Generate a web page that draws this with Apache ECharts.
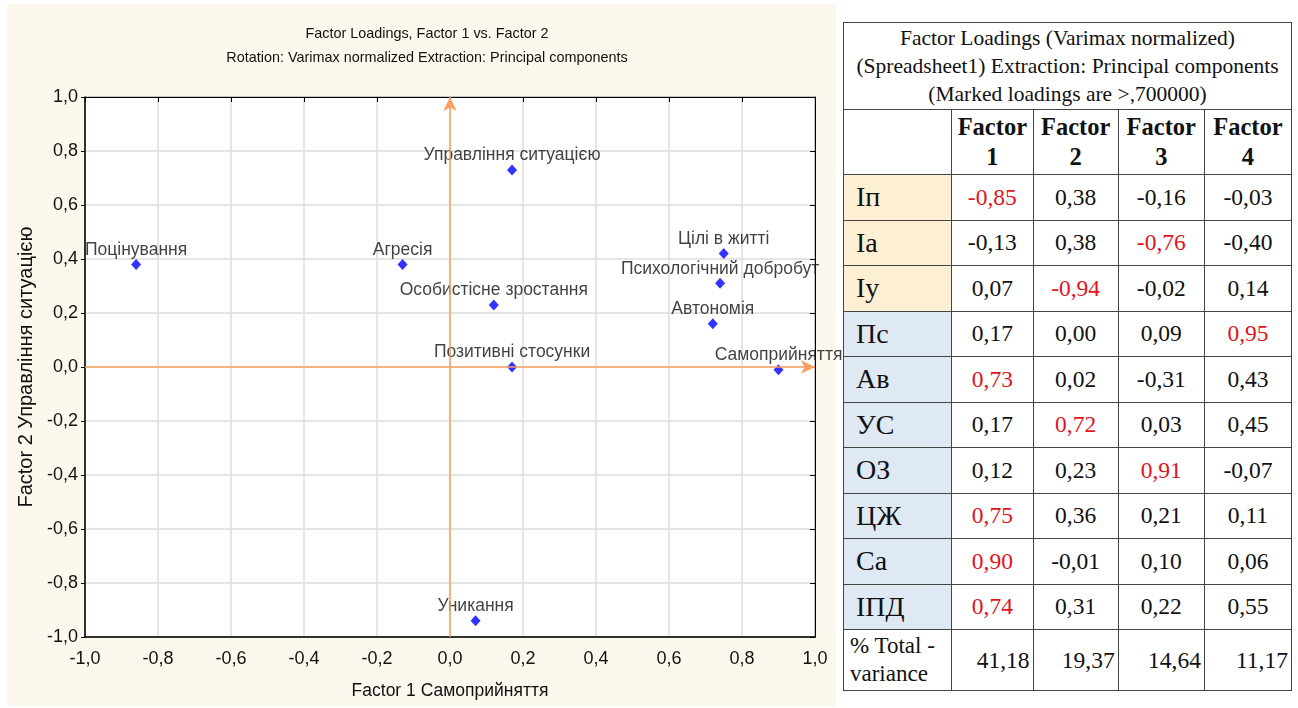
<!DOCTYPE html>
<html>
<head>
<meta charset="utf-8">
<script src="https://cdn.jsdelivr.net/npm/echarts@6/dist/echarts.min.js"></script>
<style>
  html, body { margin: 0; padding: 0; background: #fff; width: 1298px; height: 708px; overflow: hidden; }
  #panel { position: absolute; left: 7px; top: 4px; width: 829px; height: 702px; background: #fdf8ee; }
  #chart { position: absolute; left: 7px; top: 4px; width: 836px; height: 702px; }
  #tbl { position: absolute; left: 843px; top: 22px; width: 449px; border-collapse: collapse;
         font-family: "Liberation Serif", "Times New Roman", serif; color: #111; background: #fff; }
  #tbl td { border: 1px solid #444; padding: 0; }
  #tbl .ttl { text-align: center; font-size: 21.5px; line-height: 28px; height: 86px; white-space: nowrap; }
  #tbl .hd { text-align: center; font-weight: bold; font-size: 24.5px; line-height: 30px; height: 64px; }
  #tbl .lab { font-size: 28px; padding-left: 12px; height: 44.5px; }
  #tbl .val { text-align: center; font-size: 23.5px; }
  #tbl .red { color: #e0141e; }
  #tbl .var { font-size: 23px; line-height: 28px; padding-left: 6px; height: 60px; white-space: nowrap; }
  #tbl .vv { text-align: right; font-size: 23.5px; padding-right: 3px; }
</style>
</head>
<body>
<div id="panel"></div>
<div id="chart"></div>
<table id="tbl"></table>
<script>
// points on the plot (Factor 1, Factor 2)
const pointNames = ['Поцінування', 'Агресія', 'Уникання', 'Позитивні стосунки', 'Автономія',
  'Управління ситуацією', 'Особистісне зростання', 'Цілі в житті', 'Самоприйняття', 'Психологічний добробут'];
const factor1 = [-0.86, -0.13, 0.07, 0.17, 0.72, 0.17, 0.12, 0.75, 0.90, 0.74];
const factor2 = [0.38, 0.38, -0.94, 0.00, 0.16, 0.73, 0.23, 0.42, -0.01, 0.31];
const axisTicks = [-1, -0.8, -0.6, -0.4, -0.2, 0, 0.2, 0.4, 0.6, 0.8, 1];

// table
const rowLabels = ['Iп', 'Ia', 'Iу', 'Пс', 'Ав', 'УС', 'ОЗ', 'ЦЖ', 'Са', 'ІПД'];
const loadF1 = [-0.85, -0.13, 0.07, 0.17, 0.73, 0.17, 0.12, 0.75, 0.90, 0.74];
const loadF2 = [0.38, 0.38, -0.94, 0.00, 0.02, 0.72, 0.23, 0.36, -0.01, 0.31];
const loadF3 = [-0.16, -0.76, -0.02, 0.09, -0.31, 0.03, 0.91, 0.21, 0.10, 0.22];
const loadF4 = [-0.03, -0.40, 0.14, 0.95, 0.43, 0.45, -0.07, 0.11, 0.06, 0.55];
const totalVariance = [41.18, 19.37, 14.64, 11.17];

const comma = (v, d) => (Math.abs(v) < 1e-9 ? 0 : v).toFixed(d).replace('.', ',');

// ---- table ----
let html = '<tr><td colspan="5" class="ttl">Factor Loadings (Varimax normalized)<br>(Spreadsheet1) Extraction: Principal components<br>(Marked loadings are &gt;,700000)</td></tr>';
html += '<tr><td></td>';
[1, 2, 3, 4].forEach(n => { html += '<td class="hd">Factor<br>' + n + '</td>'; });
html += '</tr>';
rowLabels.forEach((lab, i) => {
  let bg = i < 3 ? '#fcefd4' : '#dfe9f4';
  html += '<tr><td class="lab" style="background:' + bg + '">' + lab + '</td>';
  [loadF1, loadF2, loadF3, loadF4].forEach(arr => {
    let v = arr[i];
    html += '<td class="val' + (Math.abs(v) > 0.7 ? ' red' : '') + '">' + comma(v, 2) + '</td>';
  });
  html += '</tr>';
});
html += '<tr><td class="var">% Total -<br>variance</td>';
totalVariance.forEach(v => { html += '<td class="vv">' + comma(v, 2) + '</td>'; });
html += '</tr>';
document.getElementById('tbl').innerHTML = html;
// column widths
const widths = [108, 81, 85, 86, 87];
document.querySelectorAll('#tbl tr:nth-child(2) td').forEach((td, i) => { td.style.width = widths[i] + 'px'; });

// ---- chart ----
let myChart = echarts.init(document.getElementById('chart'));
const font = '"Liberation Sans", Arial, sans-serif';
const tickFmt = v => comma(v, 1);

let points = factor1.map((x, i) => ({ name: pointNames[i], value: [x, factor2[i]] }));

myChart.setOption({
  backgroundColor: 'transparent',
  animation: false,
  title: [
    { text: 'Factor Loadings, Factor 1 vs. Factor 2', left: 415, textAlign: 'center', top: 18,
      textStyle: { fontFamily: font, fontSize: 14.4, fontWeight: 'normal', color: '#111' } },
    { text: 'Rotation: Varimax normalized Extraction: Principal components', left: 415, textAlign: 'center', top: 42,
      textStyle: { fontFamily: font, fontSize: 14.4, fontWeight: 'normal', color: '#111' } }
  ],
  grid: {
    left: 78, right: 28, top: 93, bottom: 69,
    show: true, backgroundColor: '#fff', borderColor: '#000', borderWidth: 1
  },
  xAxis: [
    {
      type: 'value', min: -1, max: 1, interval: 0.2,
      name: 'Factor 1 Самоприйняття', nameLocation: 'middle', nameGap: 45,
      nameTextStyle: { fontFamily: font, fontSize: 17.5, color: '#111' },
      axisLine: { onZero: false, lineStyle: { color: '#000', width: 1.5 } },
      axisTick: { show: false },
      axisLabel: { fontFamily: font, fontSize: 18, color: '#111', margin: 13, formatter: tickFmt },
      splitLine: { lineStyle: { color: '#dcdcdc', width: 1.5 } }
    },
    {
      type: 'value', min: -1, max: 1, interval: 0.2, position: 'top',
      axisLine: { onZero: false, lineStyle: { color: '#000' } },
      axisTick: { inside: true, length: 5, lineStyle: { color: '#000' } },
      axisLabel: { show: false }, splitLine: { show: false }
    }
  ],
  yAxis: [
    {
      type: 'value', min: -1, max: 1, interval: 0.2,
      name: 'Factor 2 Управління ситуацією', nameLocation: 'middle', nameGap: 46,
      nameTextStyle: { fontFamily: font, fontSize: 20, color: '#111' },
      axisLine: { onZero: false, lineStyle: { color: '#000', width: 1.5 } },
      axisTick: { length: 4, lineStyle: { color: '#000' } },
      axisLabel: { fontFamily: font, fontSize: 18, color: '#111', margin: 7, formatter: tickFmt },
      splitLine: { lineStyle: { color: '#dcdcdc', width: 1.5 } }
    },
    {
      type: 'value', min: -1, max: 1, interval: 0.2, position: 'right',
      axisLine: { onZero: false, lineStyle: { color: '#000' } },
      axisTick: { inside: true, length: 5, lineStyle: { color: '#000' } },
      axisLabel: { show: false }, splitLine: { show: false }
    }
  ],
  series: [
    {
      type: 'scatter',
      symbol: 'diamond',
      symbolSize: [10, 11],
      itemStyle: { color: '#0000ff' },
      label: {
        show: true, position: 'top', distance: 0,
        formatter: p => p.name,
        fontFamily: font, fontSize: 17.5, color: '#111'
      },
      data: points,
      markLine: {
        silent: true,
        symbol: ['none', 'arrow'],
        symbolSize: [10, 14],
        label: { show: false },
        lineStyle: { color: '#f7a060', type: 'solid', width: 1.5 },
        data: [
          [{ coord: [axisTicks[0], 0] }, { coord: [axisTicks[axisTicks.length - 1], 0] }],
          [{ coord: [0, axisTicks[0]] }, { coord: [0, axisTicks[axisTicks.length - 1]] }]
        ]
      },
      z: 3
    }
  ]
});
</script>
</body>
</html>
